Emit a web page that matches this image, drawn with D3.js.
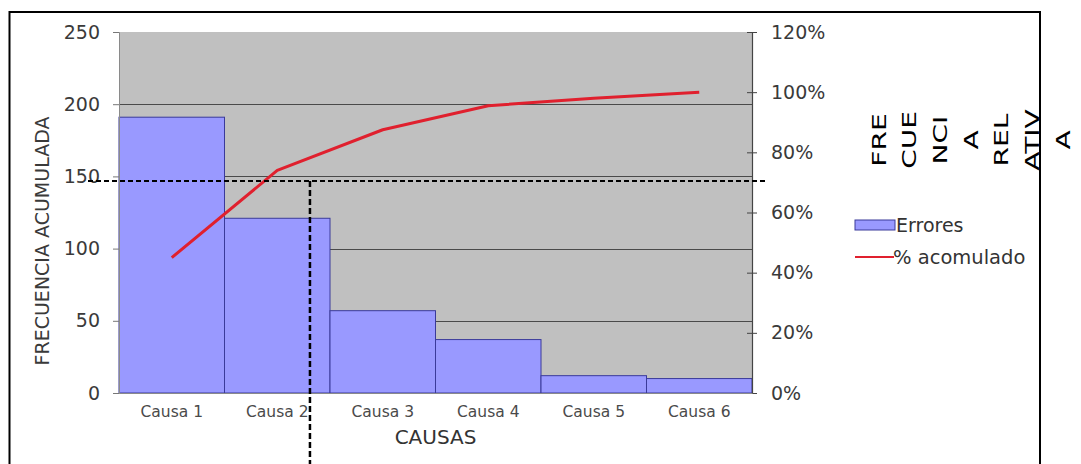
<!DOCTYPE html>
<html>
<head>
<meta charset="utf-8">
<script src="https://cdn.jsdelivr.net/npm/d3@7"></script>
<style>
  html, body { margin: 0; padding: 0; background: #fff; }
  svg { display: block; }
  text { font-family: "DejaVu Sans", Verdana, sans-serif; }
</style>
</head>
<body>
<div id="chart"></div>
<script>
const causas = ["Causa 1", "Causa 2", "Causa 3", "Causa 4", "Causa 5", "Causa 6"];
const errores = [191, 121, 57, 37, 12, 10];
const acumulado = [0.45, 0.74, 0.875, 0.955, 0.98, 1.0];
const leftTicks = [0, 50, 100, 150, 200, 250];
const rightTicks = [0, 0.2, 0.4, 0.6, 0.8, 1.0, 1.2];
const gridValues = [50, 100, 150, 200];
const sideWords = ["FRE", "CUE", "NCI", "A", "REL", "ATIV", "A"];
// reference marks: 70.5 % on the right axis, 1.81 bands along x
const corteY = 0.705;
const corteX = 1.81;

const W = 1081, H = 464;
const plot = { left: 119, right: 752, top: 32, bottom: 393 };

const svg = d3.select("#chart").append("svg").attr("width", W).attr("height", H);

const x = d3.scaleBand().domain(causas).range([plot.left, plot.right]).paddingInner(0).paddingOuter(0);
const xBands = d3.scaleLinear().domain([0, causas.length]).range([plot.left, plot.right]);
const yL = d3.scaleLinear().domain([0, 250]).range([plot.bottom, plot.top]);
const yR = d3.scaleLinear().domain([0, 1.2]).range([plot.bottom, plot.top]);

// outer frame
svg.append("rect")
  .attr("x", 9.5).attr("y", 12).attr("width", 1030.5).attr("height", 470)
  .attr("fill", "none").attr("stroke", "#000").attr("stroke-width", 2);

// plot background
svg.append("rect")
  .attr("x", plot.left).attr("y", plot.top)
  .attr("width", plot.right - plot.left).attr("height", plot.bottom - plot.top)
  .attr("fill", "#c0c0c0");

// gridlines
svg.append("g").selectAll("line").data(gridValues).join("line")
  .attr("x1", plot.left).attr("x2", plot.right)
  .attr("y1", (d) => Math.round(yL(d)) + 0.5).attr("y2", (d) => Math.round(yL(d)) + 0.5)
  .attr("stroke", "#4a4a4a").attr("stroke-width", 1.2);

// bars
svg.append("g").selectAll("rect").data(errores).join("rect")
  .attr("x", (d, i) => x(causas[i]))
  .attr("y", (d) => yL(d))
  .attr("width", x.bandwidth())
  .attr("height", (d) => yL(0) - yL(d))
  .attr("fill", "#9999ff")
  .attr("stroke", "#3a3a9a")
  .attr("stroke-width", 1);

// left axis
const gL = svg.append("g").attr("transform", `translate(${plot.left},0)`)
  .call(d3.axisLeft(yL).tickValues(leftTicks).tickSize(6).tickPadding(13));
gL.select(".domain").attr("stroke", "#8a8a8a");
gL.selectAll(".tick line").attr("stroke", "#777");
gL.selectAll(".tick text").attr("font-size", 19).attr("fill", "#3a3a3a")
  .attr("font-family", "DejaVu Sans, sans-serif");

// right axis
const gR = svg.append("g").attr("transform", `translate(${plot.right},0)`)
  .call(d3.axisRight(yR).tickValues(rightTicks).tickFormat(d3.format(".0%")).tickSize(5).tickPadding(14));
gR.select(".domain").attr("stroke", "#444").attr("stroke-width", 1.2);
gR.selectAll(".tick line").attr("stroke", "#444").attr("x1", -5);
gR.selectAll(".tick text").attr("font-size", 19).attr("fill", "#3a3a3a")
  .attr("font-family", "DejaVu Sans, sans-serif");

// bottom axis
const gB = svg.append("g").attr("transform", `translate(0,${plot.bottom})`)
  .call(d3.axisBottom(x).tickSize(0).tickPadding(13));
gB.select(".domain").attr("stroke", "#8a8a8a");
gB.selectAll(".tick text").attr("font-size", 15.5).attr("fill", "#4a4a4a")
  .attr("font-family", "DejaVu Sans, sans-serif");

// cumulative line
const line = d3.line()
  .x((d, i) => x(causas[i]) + x.bandwidth() / 2)
  .y((d) => yR(d));
svg.append("path").datum(acumulado)
  .attr("d", line)
  .attr("fill", "none")
  .attr("stroke", "#e0202e")
  .attr("stroke-width", 3)
  .attr("stroke-linejoin", "round");

// axis titles
svg.append("text")
  .attr("transform", "translate(42,241) rotate(-90)")
  .attr("text-anchor", "middle").attr("dy", "0.35em")
  .attr("font-size", 19).attr("fill", "#3a3a3a")
  .text("FRECUENCIA ACUMULADA");

svg.append("text")
  .attr("x", (plot.left + plot.right) / 2).attr("y", 437)
  .attr("text-anchor", "middle").attr("dy", "0.35em")
  .attr("font-size", 20).attr("fill", "#333")
  .text("CAUSAS");

// legend
const leg = svg.append("g").attr("transform", "translate(855,225)");
leg.append("rect").attr("x", 0).attr("y", -5).attr("width", 40).attr("height", 10)
  .attr("fill", "#9999ff").attr("stroke", "#3a3a9a").attr("stroke-width", 1);
leg.append("text").attr("x", 41).attr("y", 0).attr("dy", "0.35em")
  .attr("font-size", 19).attr("fill", "#333").text("Errores");
leg.append("line").attr("x1", 0).attr("x2", 39).attr("y1", 32).attr("y2", 32)
  .attr("stroke", "#e0202e").attr("stroke-width", 2);
leg.append("text").attr("x", 38).attr("y", 32).attr("dy", "0.35em")
  .attr("font-size", 19.5).attr("fill", "#333").text("% acomulado");

// dashed reference lines
svg.append("line")
  .attr("x1", 88).attr("x2", 768)
  .attr("y1", yR(corteY)).attr("y2", yR(corteY))
  .attr("stroke", "#000").attr("stroke-width", 2).attr("stroke-dasharray", "5,3");
svg.append("line")
  .attr("x1", xBands(corteX)).attr("x2", xBands(corteX))
  .attr("y1", yR(corteY)).attr("y2", H)
  .attr("stroke", "#000").attr("stroke-width", 2.5).attr("stroke-dasharray", "6,3");

// side label broken into columns
svg.append("g").selectAll("text").data(sideWords).join("text")
  .attr("transform", (d, i) => `translate(${878.5 + i * 30.7},140) rotate(-90) scale(1.4,1)`)
  .attr("text-anchor", "middle").attr("dy", "0.35em")
  .attr("font-family", "Liberation Sans, Arial, sans-serif")
  .attr("font-size", 20).attr("fill", "#000")
  .text((d) => d);
</script>
</body>
</html>
